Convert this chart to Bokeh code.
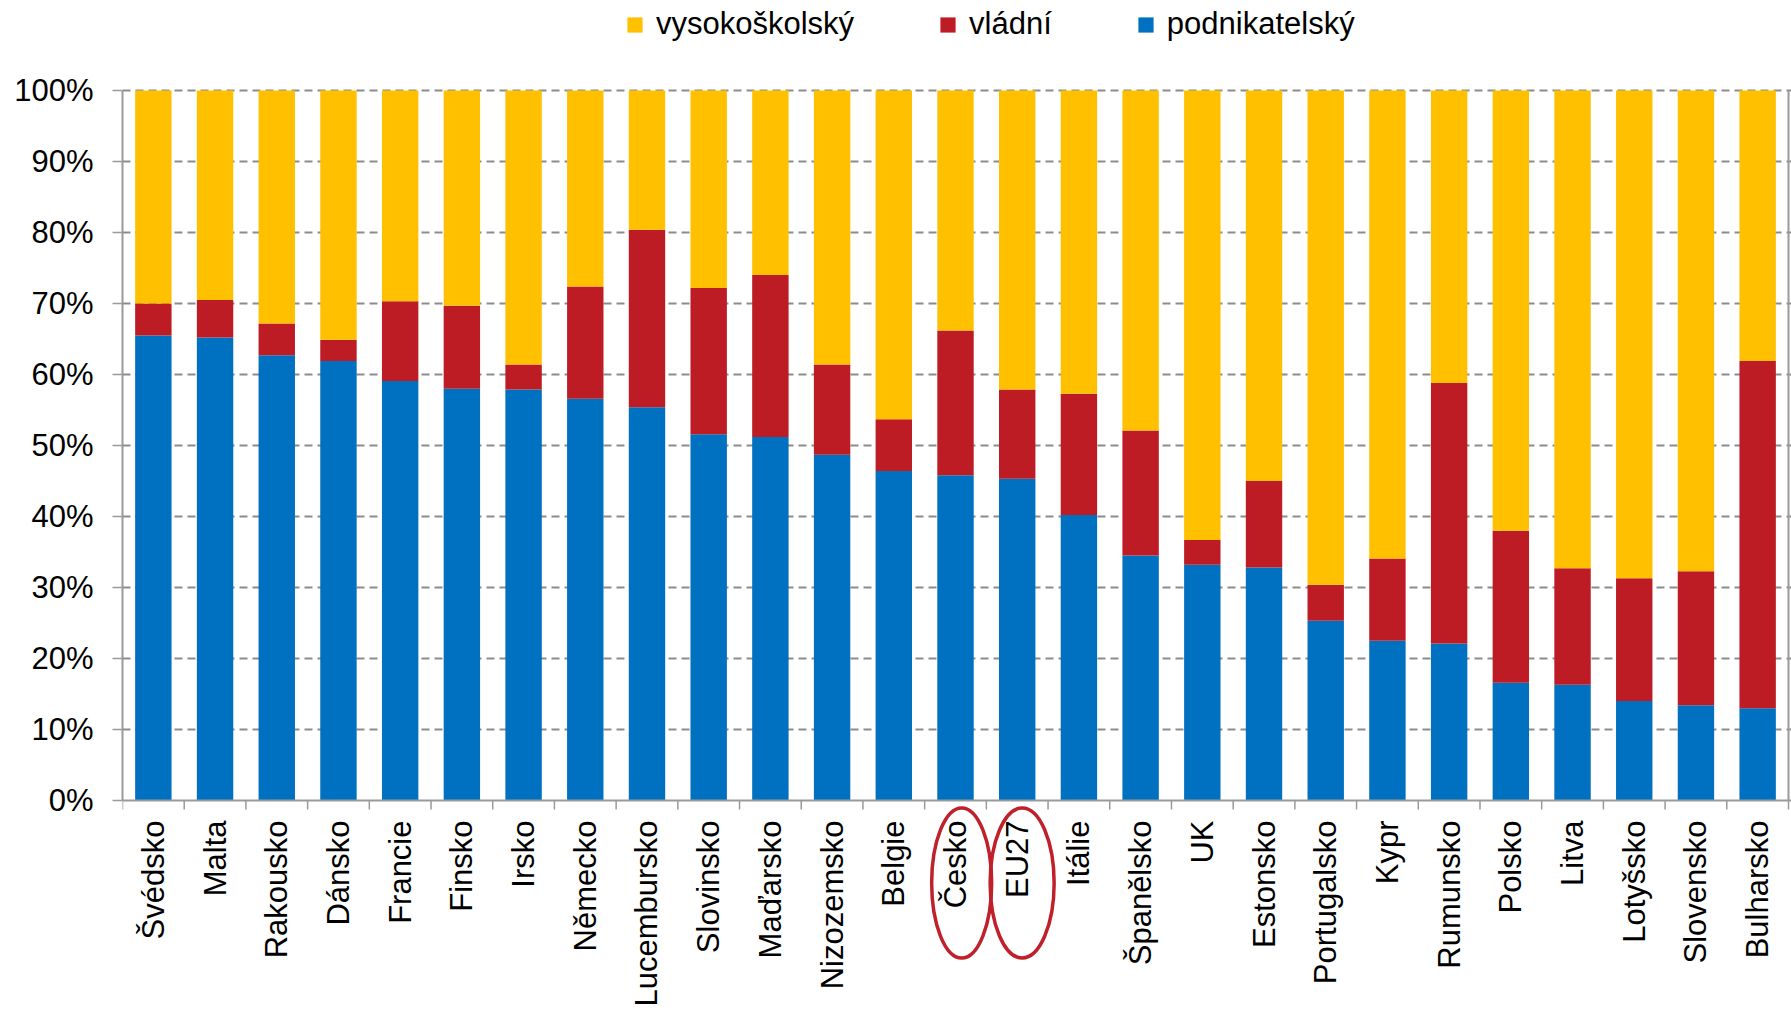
import numpy as np
from bokeh.plotting import figure
from bokeh.models import (ColumnDataSource, Range1d, FixedTicker, PrintfTickFormatter,
                          Legend, LegendItem, Span)
from bokeh.core.properties import value
from bokeh.embed import file_html
from bokeh.resources import INLINE

countries = ["Švédsko", "Malta", "Rakousko", "Dánsko", "Francie", "Finsko", "Irsko",
             "Německo", "Lucembursko", "Slovinsko", "Maďarsko", "Nizozemsko", "Belgie",
             "Česko", "EU27", "Itálie", "Španělsko", "UK", "Estonsko", "Portugalsko",
             "Kypr", "Rumunsko", "Polsko", "Litva", "Lotyšsko", "Slovensko", "Bulharsko"]
podnikatelsky = [65.5, 65.2, 62.7, 61.9, 59.1, 58.0, 57.9, 56.6, 55.4, 51.6, 51.2, 48.7, 46.4,
                 45.8, 45.3, 40.2, 34.5, 33.2, 32.8, 25.3, 22.5, 22.1, 16.6, 16.3, 14.0, 13.4, 13.0]
vladni = [4.5, 5.3, 4.5, 3.0, 11.2, 11.7, 3.5, 15.8, 25.0, 20.6, 22.8, 12.7, 7.3,
          20.4, 12.6, 17.1, 17.6, 3.5, 12.2, 5.1, 11.6, 36.7, 21.4, 16.4, 17.3, 18.9, 48.9]
vysokoskolsky = [30.0, 29.5, 32.8, 35.1, 29.7, 30.3, 38.6, 27.6, 19.6, 27.8, 26.0, 38.6, 46.3,
                 33.8, 42.1, 42.7, 47.9, 63.3, 55.0, 69.6, 65.9, 41.2, 62.0, 67.3, 68.7, 67.7, 38.1]
y_ticks = [0, 10, 20, 30, 40, 50, 60, 70, 80, 90, 100]
highlighted = ["Česko", "EU27"]

BLUE = "#0070C0"
RED = "#BE1C24"
YELLOW = "#FFC000"
GREY = "#9A9A9A"
FONT = "Liberation Sans"

W, H = 1791, 1011
LEFT = 122
TOP_Y = 90                        # pixel row of the 100 % line
ZERO_Y = 800                      # pixel row of the 0 % line
PX_PER_PCT = (ZERO_Y - TOP_Y) / 100.0
PX_PER_CAT = (1788 - LEFT) / 27.0

n = len(countries)
xs = list(range(1, n + 1))
source = ColumnDataSource(dict(x=xs, podnik=podnikatelsky, vladni=vladni,
                               vysoko=vysokoskolsky, name=countries))

y_start = -(H - ZERO_Y) / PX_PER_PCT
y_end = 100 + TOP_Y / PX_PER_PCT
x_end = 0.5 + (W - LEFT) / PX_PER_CAT

p = figure(width=W, height=H, output_backend="svg", toolbar_location=None,
           x_range=Range1d(0.5, x_end), y_range=Range1d(y_start, y_end),
           x_axis_location=None,
           min_border_left=LEFT, min_border_right=0, min_border_top=0, min_border_bottom=0)
p.outline_line_color = None
p.background_fill_color = "white"
p.border_fill_color = "white"

p.xgrid.visible = False
p.ygrid.ticker = FixedTicker(ticks=y_ticks[1:])
p.ygrid.grid_line_color = "#8C8C8C"
p.ygrid.grid_line_width = 2
p.ygrid.grid_line_dash = "8 5"

rs = p.vbar_stack(["podnik", "vladni", "vysoko"], x="x", width=0.59,
                  color=[BLUE, RED, YELLOW], line_color=None, source=source)

# y axis
ya = p.yaxis[0]
ya.bounds = (0, 100)
ya.ticker = FixedTicker(ticks=y_ticks)
ya.formatter = PrintfTickFormatter(format="%d%%")
ya.major_tick_out = 10
ya.major_tick_in = 0
ya.minor_tick_out = 0
ya.minor_tick_in = 0
ya.major_tick_line_color = GREY
ya.major_tick_line_width = 1.5
ya.axis_line_color = GREY
ya.axis_line_width = 2
ya.major_label_text_font = FONT
ya.major_label_text_font_size = "31px"
ya.major_label_text_color = "black"
ya.major_label_standoff = 19

# x axis line, category separator ticks, right border
p.add_layout(Span(location=0, dimension="width", line_color=GREY, line_width=2))
bounds_x = [i + 0.5 for i in range(n + 1)]
p.segment(x0=bounds_x, y0=[0] * (n + 1), x1=bounds_x, y1=[-9 / PX_PER_PCT] * (n + 1),
          line_color=GREY, line_width=1.5)
p.segment(x0=[n + 0.5], y0=[0], x1=[n + 0.5], y1=[100], line_color=GREY, line_width=2)

# category labels (vertical, reading upwards)
p.text(x="x", y=0, text="name", source=source, angle=np.pi / 2, y_offset=20,
       text_align="right", text_baseline="middle", text_color="black",
       text_font=value(FONT), text_font_size=value("31px"))

# red ellipses around highlighted labels
hx = [countries.index(nm) + 1 + d for nm, d in zip(highlighted, [0.1, 0.08])]
p.ellipse(x=hx, y=[-82.5 / PX_PER_PCT] * 2, width=[60 / PX_PER_CAT, 64 / PX_PER_CAT],
          height=[150 / PX_PER_PCT] * 2, fill_color=None, line_color="#C0202A", line_width=3.5)

# legend (above the plot area, inside the extended frame)
legend = Legend(items=[LegendItem(label="vysokoškolský", renderers=[rs[2]]),
                       LegendItem(label="vládní", renderers=[rs[1]]),
                       LegendItem(label="podnikatelský", renderers=[rs[0]])],
                orientation="horizontal", location=(503, H - 42),
                glyph_width=19, glyph_height=19, label_standoff=12, spacing=84,
                label_text_font=FONT, label_text_font_size="31px", label_height=32,
                label_text_color="black",
                padding=0, margin=0, border_line_color=None, background_fill_alpha=0)
p.add_layout(legend, "center")

open("out.html", "w").write(file_html(p, INLINE))
